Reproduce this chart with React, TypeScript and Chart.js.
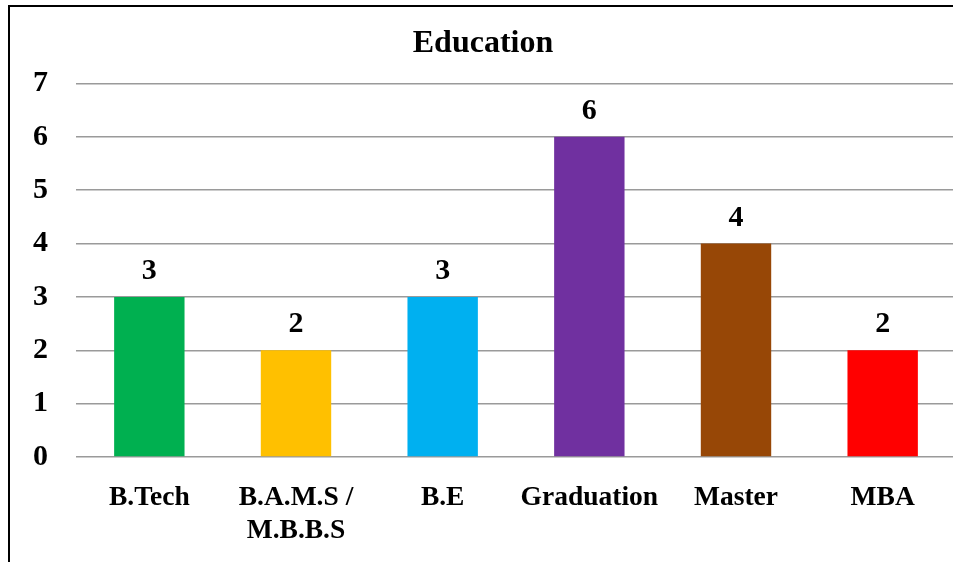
import React, { useEffect, useRef } from "react";
import { Chart, registerables } from "chart.js";

Chart.register(...registerables);

const categories: (string | string[])[] = ["B.Tech", ["B.A.M.S /", "M.B.B.S"], "B.E", "Graduation", "Master", "MBA"];
const counts: number[] = [3, 2, 3, 6, 4, 2];
const barColors: string[] = ["#00B050", "#FFC000", "#00B0F0", "#7030A0", "#974706", "#FF0000"];
const yTicks: number[] = [0, 1, 2, 3, 4, 5, 6, 7];
const titleText = "Education";

const FAMILY = "'Times New Roman', 'Liberation Serif', serif";

const dataLabelPlugin = {
  id: "dataLabels",
  afterDatasetsDraw(chart: any) {
    const ctx = chart.ctx;
    ctx.save();
    ctx.font = `bold 30px ${FAMILY}`;
    ctx.fillStyle = "#000";
    ctx.textAlign = "center";
    ctx.textBaseline = "alphabetic";
    chart.data.datasets.forEach((ds: any, di: number) => {
      const meta = chart.getDatasetMeta(di);
      meta.data.forEach((el: any, i: number) => {
        ctx.fillText(String(ds.data[i]), el.x, el.y - 18);
      });
    });
    ctx.restore();
  },
};

export default function App() {
  const ref = useRef<HTMLCanvasElement | null>(null);
  useEffect(() => {
    if (!ref.current) return;
    const chart = new Chart(ref.current, {
      type: "bar",
      data: {
        labels: categories as any,
        datasets: [
          {
            data: counts,
            backgroundColor: barColors,
            borderWidth: 0,
            categoryPercentage: 1,
            barPercentage: 0.48,
          },
        ],
      },
      options: {
        animation: false,
        responsive: false,
        devicePixelRatio: 1,
        layout: { padding: { left: 0, right: 5, top: 0, bottom: 0 } },
        plugins: {
          legend: { display: false },
          tooltip: { enabled: false },
          title: {
            display: true,
            text: titleText,
            color: "#000",
            font: { family: FAMILY, size: 32, weight: "bold", lineHeight: 1.2 },
            padding: { top: 18, bottom: 20 },
          },
        },
        scales: {
          x: {
            grid: { display: false, drawTicks: false },
            border: { display: false },
            ticks: {
              color: "#000",
              padding: 24,
              maxRotation: 0,
              autoSkip: false,
              font: { family: FAMILY, size: 27.5, weight: "bold", lineHeight: 1.2 },
            },
            afterFit: (s: any) => {
              s.height = 105;
            },
          },
          y: {
            min: yTicks[0],
            max: yTicks[yTicks.length - 1],
            grid: { color: "#9a9a9a", lineWidth: 1.5, drawTicks: false },
            border: { display: false },
            ticks: {
              stepSize: 1,
              color: "#000",
              padding: 28,
              font: { family: FAMILY, size: 30, weight: "bold" },
            },
            afterFit: (s: any) => {
              s.width = 66;
            },
          },
        },
      },
      plugins: [dataLabelPlugin],
    });
    return () => chart.destroy();
  }, []);

  return (
    <div style={{ position: "fixed", left: 0, top: 0, width: 953, height: 562, overflow: "hidden", background: "#fff" }}>
      <div
        style={{
          position: "absolute",
          left: 8,
          top: 5,
          width: 1000,
          height: 600,
          borderLeft: "2px solid #000",
          borderTop: "2px solid #000",
        }}
      >
        <canvas ref={ref} width={951} height={555} style={{ display: "block" }} />
      </div>
    </div>
  );
}
